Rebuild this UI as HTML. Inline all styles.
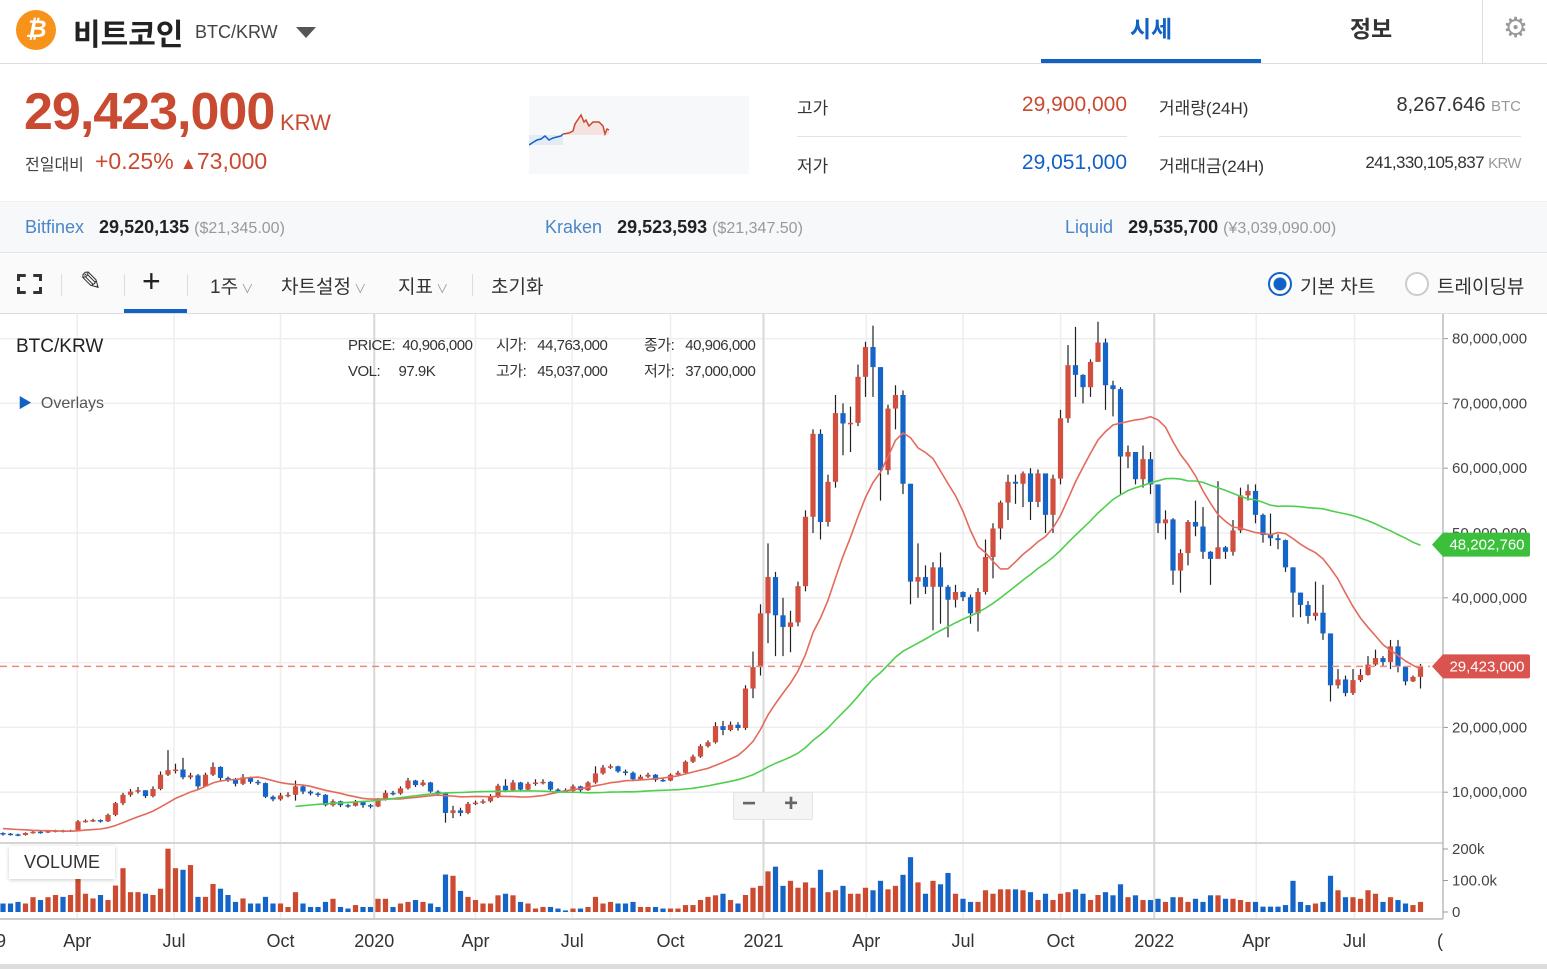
<!DOCTYPE html>
<html><head><meta charset="utf-8">
<style>
*{margin:0;padding:0;box-sizing:border-box}
body{width:1547px;height:969px;overflow:hidden;background:#fff;font-family:"Liberation Sans","Noto Sans CJK KR",sans-serif;color:#333;position:relative}
.a{position:absolute;white-space:nowrap}
</style></head><body>
<!-- header -->
<div class="a" style="left:0;top:0;width:1547px;height:64px;border-bottom:1px solid #ddd"></div>
<div class="a" style="left:16px;top:10px;width:40px;height:40px;border-radius:50%;background:#f7931a;color:#fff;font-weight:bold;font-size:24px;text-align:center;line-height:40px;font-style:italic">₿</div>
<div class="a" style="left:73px;top:10px;font-size:30px;font-weight:bold;color:#222">비트코인</div>
<div class="a" style="left:195px;top:22px;font-size:18px;color:#444">BTC/KRW</div>
<div class="a" style="left:296px;top:27px;width:0;height:0;border-left:10px solid transparent;border-right:10px solid transparent;border-top:11px solid #555"></div>
<div class="a" style="left:1041px;top:10px;width:220px;text-align:center;font-size:23px;font-weight:bold;color:#1261c4">시세</div>
<div class="a" style="left:1041px;top:59px;width:220px;height:4px;background:#1261c4"></div>
<div class="a" style="left:1261px;top:10px;width:220px;text-align:center;font-size:23px;font-weight:bold;color:#333">정보</div>
<div class="a" style="left:1482px;top:0;width:1px;height:63px;background:#ddd"></div>
<div class="a" style="left:1503px;top:11px;font-size:28px;color:#999">⚙</div>
<!-- price -->
<div class="a" style="left:24px;top:82px;font-size:52px;font-weight:bold;color:#c84a31;letter-spacing:-1px">29,423,000</div>
<div class="a" style="left:280px;top:110px;font-size:22px;color:#c84a31">KRW</div>
<div class="a" style="left:25px;top:151px;font-size:16px;color:#444">전일대비</div>
<div class="a" style="left:95px;top:148px;font-size:23px;color:#c84a31">+0.25% <span style="font-size:17px">▲</span>73,000</div>
<svg class="a" style="left:529px;top:96px" width="220" height="78">
<rect width="220" height="78" fill="#f7f8fa"/>
<polygon points="0,39 34,39 34,49 0,49" fill="#e3ebf5"/>
<polyline points="0,49 3,47 8,44 12,43 16,40 20,44 24,42 28,41 32,40 34,38" fill="none" stroke="#1261c4" stroke-width="1.5"/>
<polygon points="34,38 40,37 44,35 46,28 50,22 52,19 55,26 57,24 60,30 64,26 70,26 74,30 76,38 78,33 80,34 80,39 34,39" fill="#f6e2de"/>
<polyline points="34,38 40,37 44,35 46,28 50,22 52,19 55,26 57,24 60,30 64,26 70,26 74,30 76,38 78,33 80,34" fill="none" stroke="#c84a31" stroke-width="1.5"/>
</svg>
<div class="a" style="left:797px;top:94px;font-size:17px">고가</div>
<div class="a" style="left:927px;width:200px;text-align:right;top:93px;font-size:21px;color:#c84a31">29,900,000</div>
<div class="a" style="left:797px;top:136px;width:330px;height:1px;background:#e3e3e3"></div>
<div class="a" style="left:797px;top:152px;font-size:17px">저가</div>
<div class="a" style="left:927px;width:200px;text-align:right;top:151px;font-size:21px;color:#1261c4">29,051,000</div>
<div class="a" style="left:1159px;top:94px;font-size:17px">거래량(24H)</div>
<div class="a" style="left:1300px;width:221px;text-align:right;top:94px;font-size:20px">8,267.646 <span style="font-size:15px;color:#999">BTC</span></div>
<div class="a" style="left:1159px;top:136px;width:362px;height:1px;background:#e3e3e3"></div>
<div class="a" style="left:1159px;top:152px;font-size:17px">거래대금(24H)</div>
<div class="a" style="left:1300px;width:221px;text-align:right;top:153px;font-size:17px;letter-spacing:-0.6px">241,330,105,837 <span style="font-size:15px;color:#999">KRW</span></div>
<!-- exchanges -->
<div class="a" style="left:0;top:201px;width:1547px;height:52px;background:#f7f8fa;border-bottom:1px solid #e3e3e3;border-top:1px solid #f0f0f0"></div>
<div class="a" style="left:25px;top:217px;font-size:18px"><span style="color:#4a86c8">Bitfinex</span>&nbsp;&nbsp; <b style="font-weight:600;color:#222">29,520,135</b> <span style="color:#999;font-size:16px">($21,345.00)</span></div>
<div class="a" style="left:545px;top:217px;font-size:18px"><span style="color:#4a86c8">Kraken</span>&nbsp;&nbsp; <b style="font-weight:600;color:#222">29,523,593</b> <span style="color:#999;font-size:16px">($21,347.50)</span></div>
<div class="a" style="left:1065px;top:217px;font-size:18px"><span style="color:#4a86c8">Liquid</span>&nbsp;&nbsp; <b style="font-weight:600;color:#222">29,535,700</b> <span style="color:#999;font-size:16px">(¥3,039,090.00)</span></div>
<!-- toolbar -->
<div class="a" style="left:0;top:254px;width:1547px;height:60px;background:#fafafa;border-bottom:1px solid #ddd"></div>
<div class="a" style="left:17px;top:274px;width:25px;height:20px;border:3px solid #333;clip-path:polygon(0 0,35% 0,35% 100%,65% 100%,65% 0,100% 0,100% 35%,0 35%,0 65%,100% 65%,100% 100%,0 100%)"></div>
<div class="a" style="left:61px;top:274px;width:1px;height:22px;background:#ddd"></div>
<div class="a" style="left:80px;top:266px;font-size:26px;color:#333">✎</div>
<div class="a" style="left:124px;top:274px;width:1px;height:22px;background:#ddd"></div>
<div class="a" style="left:142px;top:263px;font-size:32px;font-weight:300;color:#222">+</div>
<div class="a" style="left:124px;top:309px;width:63px;height:4px;background:#1261c4"></div>
<div class="a" style="left:187px;top:274px;width:1px;height:22px;background:#ddd"></div>
<div class="a" style="left:210px;top:272px;font-size:19px;color:#333">1주<span style="font-size:12px;color:#999"> ∨</span></div>
<div class="a" style="left:281px;top:272px;font-size:19px;color:#333">차트설정<span style="font-size:12px;color:#999"> ∨</span></div>
<div class="a" style="left:398px;top:272px;font-size:19px;color:#333">지표<span style="font-size:12px;color:#999"> ∨</span></div>
<div class="a" style="left:472px;top:274px;width:1px;height:22px;background:#ddd"></div>
<div class="a" style="left:491px;top:272px;font-size:19px;color:#333">초기화</div>
<div class="a" style="left:1268px;top:272px;width:24px;height:24px;border-radius:50%;border:2px solid #1261c4;background:radial-gradient(circle,#1261c4 6px,#fff 7px)"></div>
<div class="a" style="left:1300px;top:272px;font-size:19px;color:#333">기본 차트</div>
<div class="a" style="left:1405px;top:272px;width:24px;height:24px;border-radius:50%;border:2px solid #ccc;background:#fff"></div>
<div class="a" style="left:1437px;top:272px;font-size:19px;color:#333">트레이딩뷰</div>
<!-- chart -->
<svg id="chart" class="a" style="left:0;top:314px" width="1547" height="655"></svg>
<div class="a" style="left:16px;top:336px;font-size:19px;color:#222">BTC/KRW</div>
<div class="a" style="left:348px;top:333px;font-size:15px;color:#333;line-height:26px;letter-spacing:-0.5px">
<span style="display:inline-block;width:148px">PRICE:&nbsp; 40,906,000</span><span style="display:inline-block;width:148px">시가:&nbsp;&nbsp; 44,763,000</span><span>종가:&nbsp;&nbsp; 40,906,000</span><br>
<span style="display:inline-block;width:148px">VOL:&nbsp;&nbsp;&nbsp;&nbsp; 97.9K</span><span style="display:inline-block;width:148px">고가:&nbsp;&nbsp; 45,037,000</span><span>저가:&nbsp;&nbsp; 37,000,000</span></div>
<div class="a" style="left:18px;top:393px;font-size:16px;color:#555"><span style="color:#1261c4;font-size:14px">▶</span>&nbsp; Overlays</div>
<div class="a" style="left:9px;top:846px;width:106px;height:33px;background:#fff;box-shadow:0 1px 4px rgba(0,0,0,0.2);font-size:18px;color:#333;text-align:center;line-height:33px">VOLUME</div>
<div class="a" style="left:733px;top:792px;width:80px;height:28px;background:#f5f5f5;border:1px solid #e3e3e3;border-radius:2px"></div>
<div class="a" style="left:742px;top:790px;font-size:24px;color:#666;font-weight:bold">−</div>
<div class="a" style="left:784px;top:790px;font-size:24px;color:#666;font-weight:bold">+</div>
<div class="a" style="left:0;top:964px;width:1547px;height:5px;background:#ddd"></div>
<script>
const preCloses=[5.0,4.4,4.3,4.5,4.4,4.3,4.6,4.2,4.5,4.4];
const firstOpen=3.7;
const closes=[3.6,3.5,3.4,3.7,3.9,3.8,4.0,4.1,4.0,4.1,
5.5,5.6,5.7,5.5,6.5,8.3,9.6,10.1,10.3,9.4,
10.5,12.7,13.4,13.5,12.3,12.6,10.9,12.7,13.9,12.2,
11.9,11.3,12.3,11.6,11.4,9.3,8.9,9.5,9.6,10.9,
10.1,9.8,9.6,8.0,8.6,8.0,7.9,8.5,8.0,7.8,
8.9,9.9,9.8,10.6,11.8,11.1,11.5,10.1,9.8,6.8,
7.2,6.8,8.2,8.4,8.6,9.3,11.0,10.3,11.5,10.4,
11.3,11.5,11.6,10.4,10.3,10.2,10.9,10.3,11.5,12.9,
13.8,14.0,13.2,13.0,12.0,12.4,12.7,11.9,11.8,12.7,
13.0,14.7,15.5,17.1,17.7,20.2,19.6,20.4,19.9,26.0,
29.3,37.6,43.2,37.3,35.5,36.2,41.8,52.5,65.3,51.7,
57.9,68.5,66.9,67.0,74.1,78.7,75.6,59.7,69.2,71.3,
57.6,42.5,43.2,41.7,44.7,41.7,39.7,40.9,40.1,37.6,
40.9,46.3,50.7,54.7,57.9,57.6,59.2,54.8,59.2,52.8,
58.4,67.7,75.9,74.4,72.5,76.4,79.4,72.8,72.2,61.8,
62.5,58.3,61.4,57.5,51.5,52.1,44.2,46.9,51.7,51.0,
47.1,46.0,47.8,47.1,50.4,55.8,56.5,52.8,49.7,49.2,
48.9,44.7,40.8,38.9,37.2,37.7,34.5,26.5,27.4,25.3,
27.3,28.1,29.7,30.7,30.1,32.5,29.4,27.1,27.8,29.4];
const highs=[3.8,3.7,3.6,3.8,4.0,4.0,4.1,4.2,4.2,4.2,
5.7,5.8,5.9,5.8,6.7,8.5,9.9,10.5,10.8,10.3,
10.9,13.2,16.5,14.4,15.3,13.0,12.8,13.0,14.6,14.0,
12.4,12.2,12.8,12.4,11.9,11.5,9.5,9.9,10.0,11.8,
11.1,10.3,10.0,9.7,8.9,8.7,8.2,8.8,8.6,8.2,
9.1,10.3,10.2,10.9,12.2,11.9,11.9,11.6,10.3,10.0,
7.9,7.6,8.5,8.7,8.9,9.7,11.3,12.0,11.9,11.6,
11.6,12.0,12.0,11.7,10.6,10.6,11.2,11.0,11.7,14.0,
14.2,14.3,14.1,13.5,13.2,12.7,13.0,12.8,12.2,12.9,
13.3,14.9,15.8,17.4,18.0,20.8,21.0,20.9,20.8,26.5,
31.7,39.0,48.4,44.0,40.0,38.0,42.5,53.5,66.0,66.0,
59.0,71.3,70.0,69.5,76.0,79.5,82.0,75.6,69.8,72.8,
72.0,57.6,48.4,45.0,45.5,47.0,42.0,42.0,41.0,40.5,
41.5,49.0,51.5,55.0,59.0,59.0,59.5,60.0,59.8,57.0,
59.0,69.0,79.0,81.8,74.5,76.8,82.6,80.0,73.5,72.5,
63.5,62.5,63.5,62.5,57.5,53.5,52.3,47.5,52.0,55.0,
54.0,47.2,58.0,48.0,52.0,57.0,57.5,57.5,53.0,53.0,
49.8,49.0,44.7,40.8,39.5,42.5,42.0,34.5,29.0,28.0,
29.0,29.0,31.0,32.0,31.0,33.5,33.5,29.4,28.0,29.8];
const lows=[3.3,3.3,3.2,3.3,3.6,3.6,3.7,3.8,3.8,3.9,
4.0,5.3,5.4,5.3,5.4,6.3,8.0,9.3,9.8,9.1,
9.2,10.3,12.5,12.9,12.0,12.0,10.5,10.8,12.5,11.8,
11.6,10.9,11.1,11.3,11.1,9.1,8.6,8.7,9.2,8.7,
9.7,9.5,9.3,7.8,7.8,7.7,7.6,7.8,7.6,7.5,
7.7,8.7,9.5,9.6,10.4,10.8,10.9,9.9,9.4,5.3,
6.0,6.3,6.6,8.0,8.2,8.4,9.1,10.0,10.1,10.1,
10.2,11.0,11.2,10.2,10.0,10.0,10.1,10.0,10.2,11.3,
12.7,13.6,13.0,12.6,11.7,11.8,12.2,11.6,11.6,11.7,
12.5,12.8,14.5,15.3,16.9,17.5,18.8,19.4,19.5,19.6,
24.5,28.0,33.0,31.0,31.0,31.6,35.6,41.0,50.0,49.0,
51.0,57.0,62.0,62.5,66.5,71.0,71.0,55.0,59.0,66.0,
56.0,39.0,40.0,40.6,35.0,36.0,33.9,38.5,39.5,36.0,
34.8,40.5,43.0,49.0,52.0,54.5,54.0,52.0,54.0,50.0,
50.0,57.5,67.0,71.0,70.0,71.0,77.0,69.0,68.0,56.0,
60.0,57.5,57.0,56.0,50.0,49.0,42.0,40.8,45.0,49.5,
46.0,42.0,46.5,46.0,46.5,50.0,55.0,51.5,48.5,48.0,
47.5,44.0,37.0,37.0,36.0,36.5,33.5,24.0,26.0,24.8,
25.0,27.0,28.0,29.5,29.5,29.0,28.5,26.5,27.0,26.0];
const volumes=[27,27,32,27,47,38,47,54,48,54,
115,58,43,54,38,84,139,63,63,58,
54,74,201,139,134,149,48,48,89,74,
54,32,43,27,27,48,27,27,16,63,
27,16,16,32,42,16,11,22,16,16,
42,42,16,27,32,38,32,27,16,119,
115,67,48,38,27,27,53,58,53,32,
27,11,16,16,11,5,11,11,16,48,
27,32,27,27,32,16,16,16,11,11,
11,22,22,38,48,53,58,38,27,54,
77,83,129,144,83,99,77,94,77,134,
63,69,83,58,58,77,69,99,72,83,
118,174,94,58,99,88,124,58,42,32,
32,69,58,72,72,72,69,63,38,58,
38,58,63,72,58,38,54,63,53,88,
47,53,38,38,42,32,47,47,32,42,
32,53,53,42,42,38,32,32,17,17,
17,22,99,32,22,27,32,115,69,47,
47,42,69,58,32,47,38,27,22,32];
const priceTicks=[10,20,30,40,50,60,70,80];
const priceTickLabels=["10,000,000","20,000,000","30,000,000","40,000,000","50,000,000","60,000,000","70,000,000","80,000,000"];
const volTicks=[0,100,200];
const volTickLabels=["0","100.0k","200k"];
const monthTicks=[9.9,22.8,37,49.5,63,75.9,89,101.4,115.1,128,141,153.5,167.1,180.2];
const monthLabels=["Apr","Jul","Oct","2020","Apr","Jul","Oct","2021","Apr","Jul","Oct","2022","Apr","Jul"];
const yearTickIdx=[3,7,11];
const lastPrice=29.423;
const ma50Last=48.20276;
const maShort=14, maLong=50;

const T=314;
const svg=document.getElementById('chart');
const NS='http://www.w3.org/2000/svg';
const xS=i=>3+7.5*i;
const yP=p=>857-p*6.48-T;
const yV=v=>912-v*0.315-T;
function mk(tag,attrs){const e=document.createElementNS(NS,tag);for(const k in attrs)e.setAttribute(k,attrs[k]);svg.appendChild(e);return e;}

priceTicks.forEach((p,k)=>{
  const g=mk('line',{x1:0,x2:1443,y1:yP(p),y2:yP(p),stroke:'#eeeeee','stroke-width':1.5});
  
  
  const tk=mk('line',{x1:1443,x2:1448,y1:yP(p),y2:yP(p),stroke:'#999'});
  
  
  const t=mk('text',{x:1452,y:yP(p)+5,'font-size':15,fill:'#444','font-family':'Liberation Sans Narrow, Liberation Sans, sans-serif'});
  t.textContent=priceTickLabels[k];
  
  
});
monthTicks.forEach((m,k)=>{
  const yr=yearTickIdx.includes(k);
  const g=mk('line',{x1:xS(m),x2:xS(m),y1:0,y2:604,stroke:yr?'#d8d8d8':'#eeeeee','stroke-width':yr?2:1.5});
  
  
  const t=mk('text',{x:xS(m),y:633,'font-size':18,fill:'#333','text-anchor':'middle'});
  t.textContent=monthLabels[k];
  
  
});
const e1=mk('text',{x:-4,y:633,'font-size':18,fill:'#333'});e1.textContent='9';


const e2=mk('text',{x:1437,y:633,'font-size':18,fill:'#333'});e2.textContent='(';


const sep=mk('line',{x1:0,x2:1443,y1:529,y2:529,stroke:'#d5d5d5','stroke-width':2});


const base=mk('line',{x1:0,x2:1443,y1:605,y2:605,stroke:'#ccc','stroke-width':2});


const ax=mk('line',{x1:1443,x2:1443,y1:0,y2:605,stroke:'#bbb','stroke-width':1.5});


volTicks.forEach((v,k)=>{
  const tk=mk('line',{x1:1443,x2:1448,y1:yV(v),y2:yV(v),stroke:'#999'});
  
  
  const t=mk('text',{x:1452,y:yV(v)+5,'font-size':15,fill:'#444'});
  t.textContent=volTickLabels[k];
  
  
});

const RED='#d24f3f',BLUE='#1565c8';
for(let i=0;i<closes.length;i++){
  const o=i===0?firstOpen:closes[i-1], c=closes[i];
  const up=c>=o, col=up?RED:BLUE, x=xS(i);
  const w=mk('line',{x1:x,x2:x,y1:yP(highs[i]),y2:yP(lows[i]),stroke:'#222','stroke-width':1.2});
  
  
  const top=yP(Math.max(o,c)),bot=yP(Math.min(o,c));
  const b=mk('rect',{x:x-2.6,y:top,width:5.2,height:Math.max(1.5,bot-top),fill:col});
  
  
  const v=mk('rect',{x:x-2.6,y:yV(volumes[i]),width:5.2,height:yV(0)-yV(volumes[i]),fill:up?'#cc4a2f':'#1565c8'});
  
  
}
const all=preCloses.concat(closes);
function maPts(n,start){const pts=[];for(let i=start;i<closes.length;i++){const j=i+preCloses.length;let s=0,cnt=0;for(let k=Math.max(0,j-n+1);k<=j;k++){s+=all[k];cnt++;}pts.push(xS(i).toFixed(1)+','+yP(s/cnt).toFixed(1));}return pts.join(' ');}
const r=mk('polyline',{points:maPts(maShort,0),fill:'none',stroke:'#e36a5c','stroke-width':1.6});


const g=mk('polyline',{points:maPts(maLong,maLong-preCloses.length-1),fill:'none',stroke:'#4fcf4f','stroke-width':1.6});


const d=mk('line',{x1:0,x2:1430,y1:yP(lastPrice),y2:yP(lastPrice),stroke:'#ec8a82','stroke-width':1.5,'stroke-dasharray':'7,5'});


function tag(val,label,col,name){
  const y=yP(val);
  const p=mk('path',{d:`M1432,${y} L1443,${y-12} L1528,${y-12} Q1530,${y-12} 1530,${y-10} L1530,${y+10} Q1530,${y+12} 1528,${y+12} L1443,${y+12} Z`,fill:col});
  
  
  const t=mk('text',{x:1487,y:y+5,'font-size':15,fill:'#fff','text-anchor':'middle'});
  t.textContent=label;
  
  
}
tag(ma50Last,'48,202,760','#3cc03c','ma-long');
tag(lastPrice,'29,423,000','#d9534f','last-price');
</script>
</body></html>
